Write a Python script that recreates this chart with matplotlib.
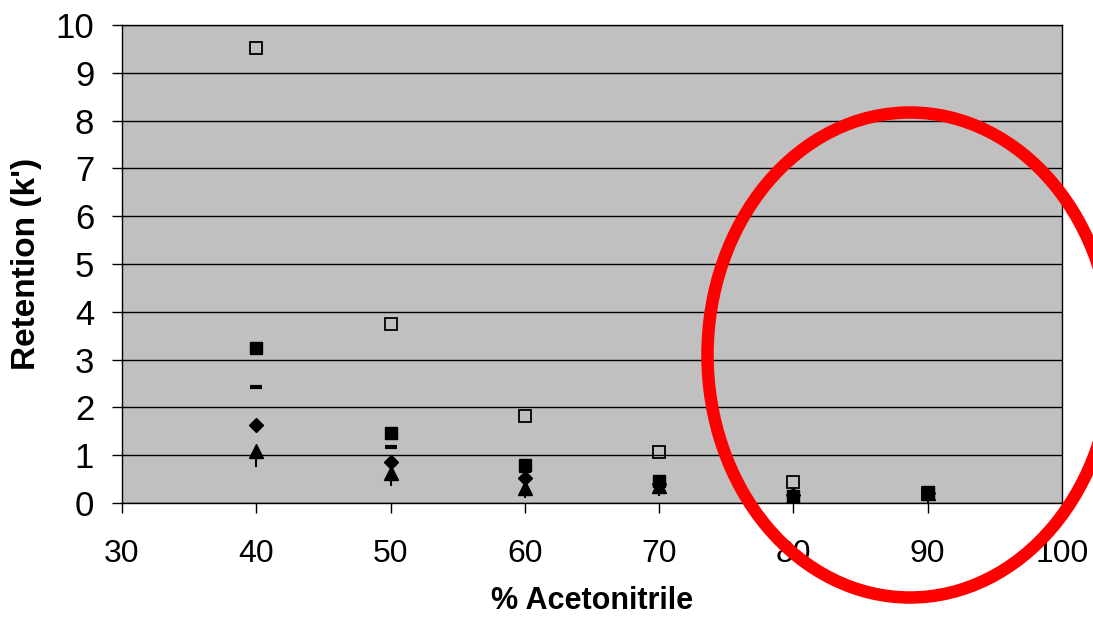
import matplotlib
matplotlib.use("Agg")
import matplotlib.pyplot as plt
from matplotlib.patches import Ellipse

plt.rcParams['font.family'] = ['Liberation Sans', 'DejaVu Sans']

acn = [40, 50, 60, 70, 80, 90]
open_sq = [9.52, 3.74, 1.82, 1.07, 0.44, 0.22]
filled_sq = [3.24, 1.46, 0.80, 0.47, 0.14, 0.24]
dash = [2.43, 1.17, 0.68, 0.42, 0.16, 0.22]
diamond = [1.63, 0.86, 0.52, 0.40, 0.17, 0.20]
triangle = [1.08, 0.62, 0.32, 0.36, 0.13, 0.20]
vline = [0.92, 0.52, 0.28, 0.32, 0.08, 0.16]

fig = plt.figure(figsize=(10.93, 6.18), dpi=100)
ax = fig.add_axes([0.1116, 0.186, 0.86, 0.7735])
ax.set_facecolor('#C0C0C0')

ax.plot(acn, vline, ls='none', marker='|', ms=12, mew=1.5, color='black')
ax.plot(acn, triangle, ls='none', marker='^', ms=10, color='black')
ax.plot(acn, diamond, ls='none', marker='D', ms=7, color='black')
ax.plot(acn, dash, ls='none', marker='_', ms=8, mew=3, color='black')
ax.plot(acn, filled_sq, ls='none', marker='s', ms=9, color='black')
ax.plot(acn, open_sq, ls='none', marker='s', ms=8.5, mfc='none', mec='black', mew=1.3)

ax.set_xlim(30, 100)
ax.set_ylim(0, 10)
ax.set_xticks(range(30, 101, 10))
ax.set_yticks(range(0, 11))
ax.yaxis.grid(True, color='black', lw=1)
ax.set_axisbelow(True)
for s in ax.spines.values():
    s.set_color('black')
    s.set_linewidth(1)
ax.tick_params(axis='both', direction='out', length=7, width=1, color='black')
ax.tick_params(axis='x', pad=19, labelsize=23)
ax.tick_params(axis='y', pad=13, labelsize=25)
ax.set_xlabel('% Acetonitrile', fontsize=22, fontweight='bold', labelpad=12)
ax.set_ylabel("Retention (k')", fontsize=24, fontweight='bold', labelpad=10)

ring = Ellipse((910 / 1093, 1 - 355 / 618), 405 / 1093, 485 / 618,
               transform=fig.transFigure, fill=False, ec='red', lw=9, clip_on=False)
fig.patches.append(ring)

fig.savefig('out.png', dpi=100)
